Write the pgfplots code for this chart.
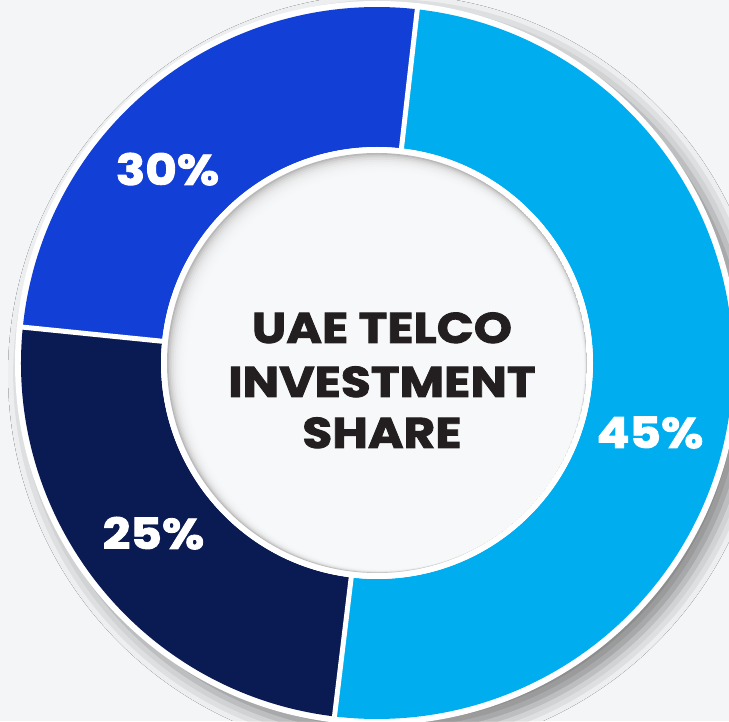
\documentclass[border=0pt]{standalone}
\usepackage{pgfplots}
\pgfplotsset{compat=1.18}
\usetikzlibrary{calc,shadows.blur}
\usepackage{fontspec}
\setmainfont{Poppins}[BoldFont={* Bold}, BoldFeatures={FakeStretch=1.13, FakeBold=2}]

\definecolor{bg}{HTML}{F4F5F7}
\definecolor{disk}{HTML}{FAFBFC}
\definecolor{sky}{HTML}{00AEEF}
\definecolor{royal}{HTML}{123FD6}
\definecolor{navy}{HTML}{0A1A52}
\definecolor{ink}{HTML}{231F20}

% slice shares as drawn (percent of the ring), clockwise from the top gap
\def\shareSky{50.1}
\def\shareNavy{24.7}
\def\shareRoyal{25.2}
\def\startAngle{83.5}
\pgfmathsetmacro\aSky{\startAngle-3.6*\shareSky}
\pgfmathsetmacro\aNavy{\aSky-3.6*\shareNavy}
\pgfmathsetmacro\aRoyal{\aNavy-3.6*\shareRoyal}

\def\Rout{356}
\def\Rin{216}

\newcommand\sector[3]{%
  \fill[#1] ($(c)+(#2:\Rout pt)$) arc[start angle=#2, end angle=#3, radius=\Rout pt]
    -- ($(c)+(#3:\Rin pt)$) arc[start angle=#3, end angle=#2, radius=\Rin pt] -- cycle;}
\newcommand\gap[1]{%
  \draw[white, line width=5pt] ($(c)+(#1:200pt)$) -- ($(c)+(#1:362pt)$);}

\begin{document}
\begin{tikzpicture}
\begin{axis}[
  width=729pt, height=721pt, scale only axis,
  xmin=0, xmax=729, ymin=0, ymax=721,
  hide axis, clip mode=global,
]
  \fill[bg] (axis cs:0,0) rectangle (axis cs:729,721);
  \coordinate (c) at (axis cs:377,358);

  % ring base with its white rim and drop shadow
  \fill[white, blur shadow={shadow xshift=11pt, shadow yshift=-11pt,
        shadow blur radius=18pt, shadow opacity=45}] (c) circle[radius=362pt];

  \sector{sky}{\startAngle}{\aSky}
  \sector{navy}{\aSky}{\aNavy}
  \sector{royal}{\aNavy}{\aRoyal}

  \gap{\startAngle}
  \gap{\aSky}
  \gap{\aNavy}

  % inner white rim and disc with soft inner shadow
  \fill[white] (c) circle[radius=\Rin pt];
  \begin{scope}
    \clip (c) circle[radius=210pt];
    \fill[gray!55] (c) circle[radius=210pt];
    \pgfplotsinvokeforeach{1,...,18}{
      \fill[disk, fill opacity=0.28] ($(c)+(#1*0.7pt,-#1*0.7pt)$) circle[radius=210pt-#1*1pt];
    }
  \end{scope}

  \node[ink, anchor=base, font=\fontsize{43}{50}\selectfont\bfseries] at (axis cs:382,378) {UAE TELCO};
  \node[ink, anchor=base, font=\fontsize{43}{50}\selectfont\bfseries] at (axis cs:382,324) {INVESTMENT};
  \node[ink, anchor=base, font=\fontsize{43}{50}\selectfont\bfseries] at (axis cs:382,273) {SHARE};

  \node[white, anchor=base, font=\fontsize{43}{50}\selectfont\bfseries] at (axis cs:167.5,536) {30\%};
  \node[white, anchor=base, font=\fontsize{43}{50}\selectfont\bfseries] at (axis cs:650,273) {45\%};
  \node[white, anchor=base, font=\fontsize{43}{50}\selectfont\bfseries] at (axis cs:153.5,172) {25\%};
\end{axis}
\end{tikzpicture}
\end{document}
